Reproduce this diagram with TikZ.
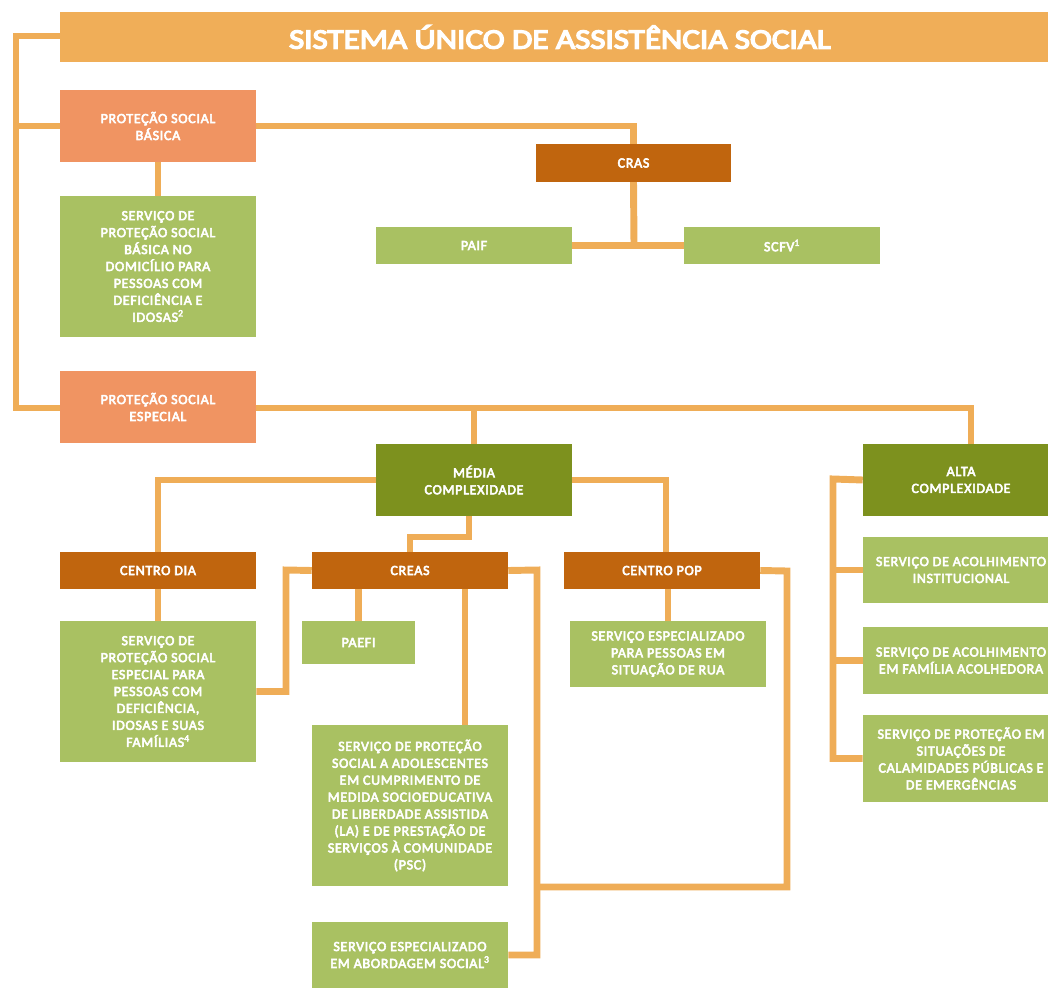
\documentclass[tikz,border=0pt]{standalone}
\usepackage{fontspec}
\setmainfont{Carlito}
\newfontfamily\boxfont{Carlito}[FakeBold=4, LetterSpace=5]
\newfontfamily\titlefont{Carlito}[FakeBold=5, FakeStretch=1.18]
\pgfdeclarelayer{bg}
\pgfsetlayers{bg,main}
\definecolor{lineor}{HTML}{EFAD57}
\definecolor{titleor}{HTML}{F0AE58}
\definecolor{salmon}{HTML}{F09462}
\definecolor{darkor}{HTML}{C0650E}
\definecolor{lightgr}{HTML}{A9C162}
\definecolor{darkgr}{HTML}{7D911E}
\tikzset{
  box/.style={rectangle, inner sep=0pt, text=white, align=center,
    font=\boxfont\fontsize{10.5}{12.7}\selectfont},
  wide/.style={minimum width=147pt},
  psbox/.style={box, wide, fill=salmon, minimum height=54pt},
  centro/.style={box, wide, fill=darkor, minimum height=27.75pt},
  svc/.style={box, wide, fill=lightgr},
  cplx/.style={box, wide, fill=darkgr, minimum height=54pt},
  conn/.style={draw=lineor, line width=5.2pt},
}
\begin{document}
\begin{tikzpicture}[x=0.75pt,y=-0.75pt]
\useasboundingbox (0,0) rectangle (1048,988);
\clip (0,0) rectangle (1048,988);
% nodes
\node[box, fill=titleor, minimum width=750pt, minimum height=37.5pt,
      font=\titlefont\fontsize{21}{24}\selectfont] (title) at (560,37)
      {SISTEMA ÚNICO DE ASSISTÊNCIA SOCIAL};
\node[psbox] (psb) at (158,126) {PROTEÇÃO SOCIAL\\BÁSICA};
\node[centro, minimum width=146.25pt] (cras) at (633.5,163) {CRAS};
\node[svc, minimum height=27.75pt] (paif) at (474,245.5) {PAIF};
\node[svc, minimum height=27.75pt] (scfv) at (782,245.5) {SCFV\textsuperscript{1}};
\node[svc, minimum height=105.75pt] (spsb) at (158,266.5)
  {SERVIÇO DE\\PROTEÇÃO SOCIAL\\BÁSICA NO\\DOMICÍLIO PARA\\PESSOAS COM\\DEFICIÊNCIA E\\IDOSAS\textsuperscript{2}};
\node[psbox] (pse) at (158,407) {PROTEÇÃO SOCIAL\\ESPECIAL};
\node[cplx] (media) at (474,480) {MÉDIA\\COMPLEXIDADE};
\node[cplx] (alta) at (961,480) {ALTA\\COMPLEXIDADE};
\node[centro] (cdia) at (158,570.5) {CENTRO DIA};
\node[centro] (creas) at (410,570.5) {CREAS};
\node[centro] (cpop) at (662,570.5) {CENTRO POP};
\node[svc, minimum height=105.75pt] (spse) at (158,691.5)
  {SERVIÇO DE\\PROTEÇÃO SOCIAL\\ESPECIAL PARA\\PESSOAS COM\\DEFICIÊNCIA,\\IDOSAS E SUAS\\FAMÍLIAS\textsuperscript{4}};
\node[svc, minimum width=84.75pt, minimum height=32.25pt] (paefi) at (358.5,642.5) {PAEFI};
\node[svc, minimum height=120.75pt] (slapsc) at (410,805.5)
  {SERVIÇO DE PROTEÇÃO\\SOCIAL A ADOLESCENTES\\EM CUMPRIMENTO DE\\MEDIDA SOCIOEDUCATIVA\\DE LIBERDADE ASSISTIDA\\(LA) E DE PRESTAÇÃO DE\\SERVIÇOS À COMUNIDADE\\(PSC)};
\node[svc, minimum height=49.5pt] (sabord) at (410,955)
  {SERVIÇO ESPECIALIZADO\\EM ABORDAGEM SOCIAL\textsuperscript{3}};
\node[svc, minimum height=49.5pt] (srua) at (668,654)
  {SERVIÇO ESPECIALIZADO\\PARA PESSOAS EM\\SITUAÇÃO DE RUA};
\node[svc, minimum height=49.5pt] (sinst) at (961,570)
  {SERVIÇO DE ACOLHIMENTO\\INSTITUCIONAL};
\node[svc, minimum height=50.25pt] (sfam) at (961,660.5)
  {SERVIÇO DE ACOLHIMENTO\\EM FAMÍLIA ACOLHEDORA};
\node[svc, minimum height=65.25pt] (scalam) at (961,758.5)
  {SERVIÇO DE PROTEÇÃO EM\\SITUAÇÕES DE\\CALAMIDADES PÚBLICAS E\\DE EMERGÊNCIAS};
% junction coordinates
\coordinate (tl) at (16,36);
\coordinate (bl) at (16,408);
\coordinate (jcras) at (634,245);
\coordinate (jmed) at (469,537);
\coordinate (jcreasL) at (286,570);
\coordinate (jcreasR) at (537,570);
\coordinate (jpopR) at (787,571);
\coordinate (jpopB) at (787,887);
\coordinate (jalta) at (833,479);
\coordinate (jaltaT) at (971,408);
\begin{pgfonlayer}{bg}
\draw[conn] (title.west |- tl) -- (tl) -- (bl) -- (pse.west |- bl);
\draw[conn] (tl |- psb.west) -- (psb.west);
\draw[conn] (psb.east) -- (cras.north |- psb.east) -- (cras.north);
\draw[conn] (cras.south) -- (jcras);
\draw[conn] (paif.east) -- (scfv.west);
\draw[conn] (psb.south) -- (spsb.north);
\draw[conn] (pse.east |- bl) -- (jaltaT) -- (jaltaT |- alta.north);
\draw[conn] (media.north |- bl) -- (media.north);
\draw[conn] (media.west) -- (cdia.north |- media.west) -- (cdia.north);
\draw[conn] (media.east) -- ([xshift=3pt]cpop.north |- media.east) -- ([xshift=3pt]cpop.north);
\draw[conn] (jmed |- media.south) -- (jmed) -- (creas.north |- jmed) -- (creas.north);
\draw[conn] (cdia.south) -- (spse.north);
\draw[conn] (creas.west) -- (jcreasL) -- (jcreasL |- spse.east) -- (spse.east);
\draw[conn] (paefi.north |- creas.south) -- (paefi.north);
\draw[conn] ([xshift=41.25pt]creas.south) -- ([xshift=41.25pt]slapsc.north);
\draw[conn] (creas.east) -- (jcreasR) -- (jcreasR |- sabord.east) -- (sabord.east);
\draw[conn] (cpop.east) -- (jpopR) -- (jpopB) -- (jcreasR |- jpopB);
\draw[conn] (cpop.south -| srua.north) -- (srua.north);
\draw[conn] (alta.west) -- (jalta) -- (jalta |- scalam.west) -- (scalam.west);
\draw[conn] (jalta |- sinst.west) -- (sinst.west);
\draw[conn] (jalta |- sfam.west) -- (sfam.west);
\end{pgfonlayer}
\end{tikzpicture}
\end{document}
